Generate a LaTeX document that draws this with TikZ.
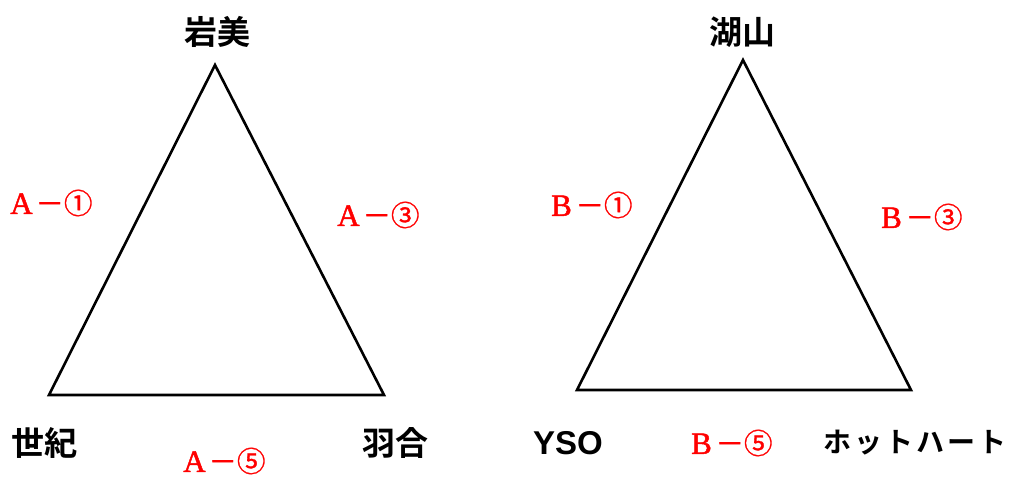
\documentclass[tikz,border=0pt]{standalone}
\usepackage{fontspec}
\newfontfamily\cjk[FakeBold=1]{Noto Sans CJK JP}
\newfontfamily\cjkbold{Noto Sans CJK JP Bold}
\newfontfamily\serifA[FakeBold=1.5]{Liberation Serif}
\newfontfamily\latb{Liberation Sans}
\newcommand{\redlab}[2]{\makebox[28pt]{\serifA\fontsize{31}{31}\selectfont #1}\cjk\fontsize{28.5}{28.5}\selectfont －#2}
\begin{document}
\begin{tikzpicture}[x=1pt,y=-1pt,
  tri/.style={draw=black,line width=2.6pt,line join=miter},
  place/.style={font=\cjkbold\fontsize{33}{33}\selectfont,inner sep=0pt,text=black},
  edge/.style={inner sep=0pt,text=red}]
\useasboundingbox (0,0) rectangle (1009,477);
% left triangle
\coordinate (a1) at (215,65);
\coordinate (b1) at (49,395);
\coordinate (c1) at (384,395);
\draw[tri] (a1) -- (b1) -- (c1) -- cycle;
% right triangle
\coordinate (a2) at (743,60);
\coordinate (b2) at (577,390);
\coordinate (c2) at (911,390);
\draw[tri] (a2) -- (b2) -- (c2) -- cycle;
% names
\node[place] (iwami) at (217,32) {岩美};
\node[place] (seiki) at (45,443) {世紀};
\node[place] (hawai) at (395,443) {羽合};
\node[place] (koyama) at (742,32) {湖山};
\node[place,font=\latb\bfseries\fontsize{33}{33}\selectfont] (yso) at (568,443) {YSO};
\node[place,font=\cjkbold\fontsize{28}{28}\selectfont] (hot) at (915,443) {ホ\hspace{3pt}ッ\hspace{3pt}ト\hspace{3pt}ハ\hspace{3pt}ー\hspace{3pt}ト};
% red labels
\node[edge] (la1) at (50,203) {\redlab{A}{①}};
\node[edge] (la3) at (377,215) {\redlab{A}{③}};
\node[edge] (la5) at (223,461) {\redlab{A}{⑤}};
\node[edge] (lb1) at (590,205) {\redlab{B}{①}};
\node[edge] (lb3) at (920,217) {\redlab{B}{③}};
\node[edge] (lb5) at (730,443) {\redlab{B}{⑤}};
\end{tikzpicture}
\end{document}
